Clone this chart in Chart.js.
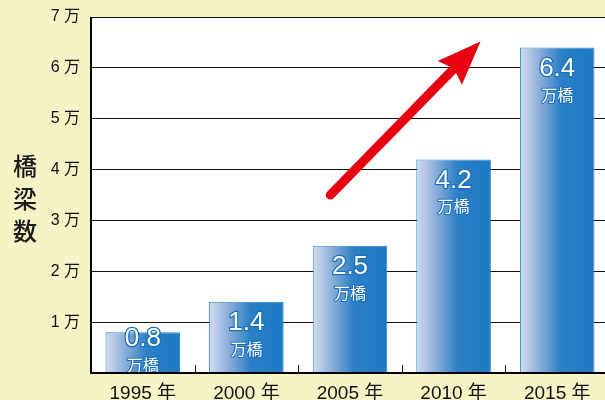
<!DOCTYPE html>
<html>
<head>
<meta charset="utf-8">
<script src="https://cdn.jsdelivr.net/npm/chart.js@4"></script>
<style>
  html, body { margin: 0; padding: 0; background: #f6f4c6; overflow: hidden; }
  #wrap { width: 605px; height: 400px; overflow: hidden; position: relative; }
  canvas { position: absolute; left: 0; top: 0; }
</style>
</head>
<body>
<div id="wrap"><canvas id="barChart" width="609" height="400"></canvas></div>
<script>
// datos
const años = ['1995 年', '2000 年', '2005 年', '2010 年', '2015 年'];
const puentes = [0.8, 1.4, 2.5, 4.2, 6.4];
const etiquetas = ['0.8', '1.4', '2.5', '4.2', '6.4'];
const unidad = '万橋';
const tituloY = ['橋', '梁', '数'];
const fuente = "'Liberation Sans', 'Noto Sans CJK JP', sans-serif";

// fondo blanco del área del gráfico
const fondoArea = {
  id: 'fondoArea',
  beforeDraw(chart) {
    const { ctx, chartArea: a } = chart;
    ctx.save();
    ctx.fillStyle = '#ffffff';
    ctx.fillRect(a.left, a.top, a.right - a.left, a.bottom - a.top);
    ctx.restore();
  }
};

// ejes, título vertical, marcas internas y flecha
const extras = {
  id: 'extras',
  afterDraw(chart) {
    const { ctx, chartArea: a, scales: { x, y } } = chart;
    ctx.save();
    // título
    ctx.fillStyle = '#1a1a1a';
    ctx.font = "500 24px 'Noto Sans CJK JP'";
    ctx.textAlign = 'center';
    ctx.textBaseline = 'middle';
    tituloY.forEach((c, i) => ctx.fillText(c, 25, 166 + i * 32.5));

    // ejes
    ctx.strokeStyle = '#000';
    ctx.lineWidth = 2;
    ctx.beginPath();
    ctx.moveTo(a.left, a.top);
    ctx.lineTo(a.left, a.bottom);
    ctx.lineTo(a.right, a.bottom);
    ctx.stroke();

    // marcas entre categorías
    ctx.strokeStyle = '#111';
    ctx.lineWidth = 1;
    for (let i = 0; i < años.length - 1; i++) {
      const px = Math.round((x.getPixelForValue(i) + x.getPixelForValue(i + 1)) / 2) + 0.5;
      ctx.beginPath();
      ctx.moveTo(px, a.bottom);
      ctx.lineTo(px, a.bottom - 8);
      ctx.stroke();
    }

    // flecha roja
    const x0 = x.getPixelForValue(1.81), y0 = y.getPixelForValue(3.5);
    const x1 = x.getPixelForValue(3.26), y1 = y.getPixelForValue(6.52);
    const dx = x1 - x0, dy = y1 - y0, len = Math.hypot(dx, dy);
    const ux = dx / len, uy = dy / len, nx = -uy, ny = ux;
    const hl = 44, hw = 17;
    const bx = x1 - ux * hl, by = y1 - uy * hl;
    ctx.strokeStyle = '#e60012';
    ctx.fillStyle = '#e60012';
    ctx.lineWidth = 9;
    ctx.lineCap = 'round';
    ctx.beginPath();
    ctx.moveTo(x0, y0);
    ctx.lineTo(bx + ux * 4, by + uy * 4);
    ctx.stroke();
    ctx.beginPath();
    ctx.moveTo(x1, y1);
    ctx.lineTo(bx + nx * hw, by + ny * hw);
    ctx.lineTo(bx + ux * 6, by + uy * 6);
    ctx.lineTo(bx - nx * hw, by - ny * hw);
    ctx.closePath();
    ctx.fill();
    ctx.restore();
  },
  afterDatasetsDraw(chart) {
    // valores dentro de las barras
    const { ctx } = chart;
    const meta = chart.getDatasetMeta(0);
    ctx.save();
    ctx.textAlign = 'center';
    ctx.textBaseline = 'middle';
    ctx.lineJoin = 'round';
    meta.data.forEach((bar, i) => {
      const numY = Math.min(bar.y + 21, bar.base - 34);
      const uniY = numY + 26;
      ctx.strokeStyle = '#1c6fb6';
      ctx.fillStyle = '#ffffff';
      ctx.lineWidth = 2.5;
      ctx.font = '26px ' + fuente;
      ctx.strokeText(etiquetas[i], bar.x, numY);
      ctx.fillText(etiquetas[i], bar.x, numY);
      ctx.font = "16px 'Noto Sans CJK JP'";
      ctx.lineWidth = 2;
      ctx.strokeText(unidad, bar.x, uniY);
      ctx.fillText(unidad, bar.x, uniY);
    });
    ctx.restore();
  }
};

function degradado(context) {
  const chart = context.chart;
  const x = chart.scales.x;
  if (!x || !chart.chartArea) return '#1a78c2';
  const cx = x.getPixelForValue(context.dataIndex);
  const w = (chart.chartArea.right - chart.chartArea.left) / años.length * 0.72;
  const g = chart.ctx.createLinearGradient(cx - w / 2, 0, cx + w / 2, 0);
  g.addColorStop(0, '#d2dbef');
  g.addColorStop(0.25, '#8fb0da');
  g.addColorStop(0.55, '#2b80c6');
  g.addColorStop(1, '#1b79c2');
  return g;
}

new Chart(document.getElementById('barChart').getContext('2d'), {
  type: 'bar',
  data: {
    labels: años,
    datasets: [{
      data: puentes,
      backgroundColor: degradado,
      borderColor: '#2f82c8',
      borderWidth: 1,
      barPercentage: 0.9,
      categoryPercentage: 0.8
    }]
  },
  options: {
    responsive: false,
    animation: false,
    layout: { padding: { top: 17, left: 0, right: 0, bottom: 0 } },
    plugins: { legend: { display: false }, tooltip: { enabled: false } },
    scales: {
      x: {
        afterFit: s => { s.height = 27; },
        grid: { display: false },
        border: { display: false },
        ticks: { color: '#111', font: { family: fuente, size: 19 }, padding: 1, maxRotation: 0 }
      },
      y: {
        min: 0,
        max: 7,
        afterFit: s => { s.width = 91; s.paddingTop = 0; },
        grid: { color: '#111', lineWidth: 1, drawTicks: false },
        border: { display: false },
        ticks: {
          stepSize: 1,
          padding: 11,
          color: '#111',
          font: { family: fuente, size: 16 },
          callback: v => (v === 0 ? '' : v + ' 万')
        }
      }
    }
  },
  plugins: [fondoArea, extras]
});
</script>
</body>
</html>
